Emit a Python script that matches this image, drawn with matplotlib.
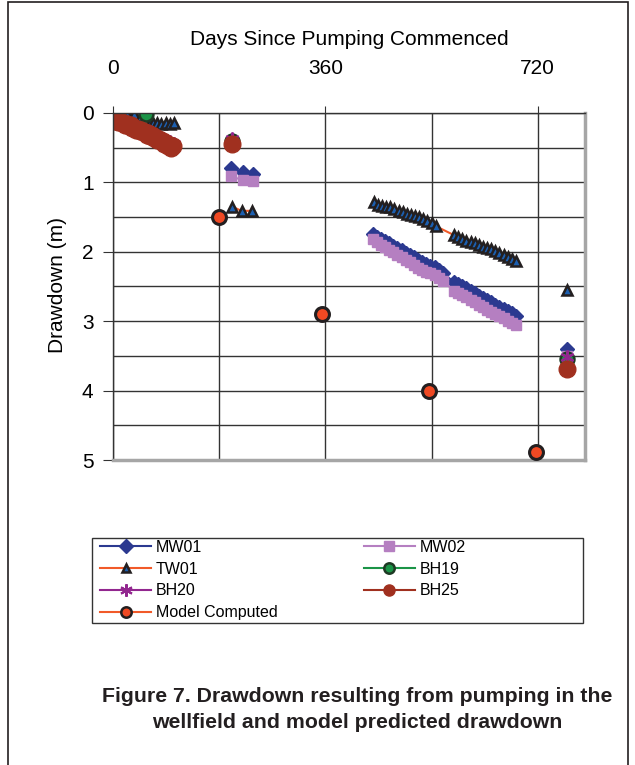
import numpy as np
import matplotlib
matplotlib.use("Agg")
import matplotlib.pyplot as plt
from matplotlib.lines import Line2D
from matplotlib.patches import Rectangle

plt.rcParams["font.family"] = ["Liberation Sans", "DejaVu Sans"]

# ---- data (days since pumping commenced, drawdown in m) ----
mw01_early_days = [0, 10, 20, 30, 40, 50, 60, 70, 80, 90, 100]
mw01_early_dd = [0.05, 0.10, 0.13, 0.17, 0.21, 0.25, 0.29, 0.33, 0.37, 0.41, 0.45]
mw02_early_dd = [0.06, 0.11, 0.15, 0.19, 0.23, 0.27, 0.31, 0.35, 0.39, 0.43, 0.47]

mw_mid_days = [200, 220, 237]
mw01_mid_dd = [0.79, 0.85, 0.88]
mw02_mid_dd = [0.91, 0.97, 0.98]

mw_late_days = [440, 447, 454, 461, 468, 475, 482, 489, 496, 503, 510, 517, 524, 531,
                538, 545, 552, 559, 578, 585, 592, 599, 606, 613, 620, 627, 634, 641,
                648, 655, 662, 669, 676, 683]
mw01_late_dd = [1.74, 1.78, 1.82, 1.84, 1.88, 1.92, 1.95, 1.98, 2.02, 2.05, 2.08, 2.12,
                2.15, 2.18, 2.20, 2.22, 2.26, 2.30, 2.44, 2.47, 2.50, 2.52, 2.56, 2.60,
                2.63, 2.66, 2.70, 2.73, 2.76, 2.79, 2.82, 2.85, 2.88, 2.92]
mw02_late_dd = [1.82, 1.86, 1.90, 1.93, 1.97, 2.01, 2.04, 2.08, 2.12, 2.15, 2.19, 2.23,
                2.26, 2.29, 2.31, 2.34, 2.38, 2.42, 2.56, 2.59, 2.62, 2.65, 2.69, 2.73,
                2.76, 2.80, 2.84, 2.87, 2.90, 2.93, 2.96, 2.99, 3.02, 3.06]

tw01_early_days = [12, 24, 36, 48, 62, 68, 75, 82, 89, 96, 103]
tw01_early_dd = [0.00, 0.01, 0.02, 0.04, 0.14, 0.15, 0.14, 0.16, 0.15, 0.16, 0.15]
tw01_mid_days = [202, 218, 235]
tw01_mid_dd = [1.35, 1.41, 1.41]
tw01_late_days = [442, 449, 456, 463, 470, 477, 484, 491, 498, 505, 512, 519, 526, 533,
                  540, 547, 578, 585, 592, 599, 606, 613, 620, 627, 634, 641, 648, 655,
                  662, 669, 676, 683]
tw01_late_dd = [1.28, 1.32, 1.34, 1.35, 1.35, 1.39, 1.41, 1.43, 1.45, 1.47, 1.49, 1.50,
                1.53, 1.56, 1.59, 1.63, 1.76, 1.78, 1.81, 1.84, 1.86, 1.87, 1.90, 1.93,
                1.94, 1.96, 1.99, 2.02, 2.05, 2.07, 2.10, 2.13]

bh19_days = [56, 202]
bh19_dd = [0.02, 0.40]

bh20_early_days = [0, 6, 12, 18, 24, 30, 36, 42, 48, 54, 60, 66, 72, 78, 84, 90, 96, 104]
bh20_early_dd = [0.03, 0.06, 0.09, 0.11, 0.14, 0.16, 0.19, 0.21, 0.23, 0.25, 0.27, 0.30,
                 0.32, 0.35, 0.37, 0.40, 0.42, 0.44]

bh25_early_days = [0, 3, 6, 9, 12, 15, 18, 21, 24, 27, 30, 33, 36, 39, 42, 45, 48, 51,
                   54, 57, 60, 63, 66, 69, 72, 75, 78, 81, 84, 87, 90, 93, 96, 99, 102]
bh25_early_dd = [0.07, 0.11, 0.10, 0.13, 0.12, 0.15, 0.14, 0.17, 0.16, 0.19, 0.18, 0.22,
                 0.21, 0.24, 0.23, 0.26, 0.25, 0.28, 0.27, 0.31, 0.29, 0.33, 0.32, 0.36,
                 0.34, 0.39, 0.37, 0.41, 0.40, 0.45, 0.43, 0.48, 0.46, 0.50, 0.47]

well_mid_day = [202]
bh20_mid_dd = [0.37]
bh25_mid_dd = [0.45]

final_day = [769]
mw01_final = [3.40]
mw02_final = [3.50]
tw01_final = [2.55]
bh19_final = [3.55]
bh20_final = [3.52]
bh25_final = [3.69]

model_days = [180, 354, 535, 717]
model_dd = [1.50, 2.90, 4.00, 4.88]

x_ticks = [0, 360, 720]
x_grid = [180, 540]
y_ticks = [0, 1, 2, 3, 4, 5]
y_grid = [0.5, 1.5, 2.5, 3.5, 4.5]


def join_segments(*segments):
    out = []
    for i, seg in enumerate(segments):
        if i:
            out.append(np.nan)
        out.extend(seg)
    return np.array(out, dtype=float)


W, H = 635, 765
fig = plt.figure(figsize=(W / 100, H / 100), dpi=100)
fig.patch.set_facecolor("white")

left, right, top, bottom = 113, 585, 113, 460
ax = fig.add_axes([left / W, 1 - bottom / H, (right - left) / W, (bottom - top) / H])

ax.set_xlim(0, 800)
ax.set_ylim(5, 0)
ax.xaxis.tick_top()
ax.set_xticks(x_ticks)
ax.set_xticks(x_grid, minor=True)
ax.set_yticks(y_ticks)
ax.set_yticks(y_grid, minor=True)
ax.grid(which="both", color="#333333", lw=1.0)
ax.set_axisbelow(True)
ax.tick_params(axis="x", which="major", direction="out", length=5, pad=20,
               labelsize=15, color="#333333")
ax.tick_params(axis="y", which="major", direction="out", length=7, pad=7,
               labelsize=15, color="#333333")
ax.tick_params(which="minor", length=0)

for side in ("left", "top"):
    ax.spines[side].set_color("#333333")
    ax.spines[side].set_linewidth(1.0)
for side in ("right", "bottom"):
    ax.spines[side].set_color("#a6a6a6")
    ax.spines[side].set_linewidth(2.5)

ax.set_xlabel("Days Since Pumping Commenced", fontsize=15)
ax.xaxis.set_label_position("top")
ax.xaxis.set_label_coords(0.5, (bottom - 40) / (bottom - top))
ax.xaxis.label.set_va("center")
ax.set_ylabel("Drawdown (m)", fontsize=15)
ax.yaxis.set_label_coords((57 - left) / (right - left), (bottom - 285) / (bottom - top))
ax.yaxis.label.set_va("center")

navy = "#2b3990"
lilac = "#b57fc1"
orange = "#f15a29"
green = "#1b9447"
purple = "#92278f"
brick = "#a0301f"
ink = "#231f20"

ax.plot(join_segments(mw01_early_days, mw_mid_days, mw_late_days, final_day),
        join_segments(mw01_early_dd, mw01_mid_dd, mw01_late_dd, mw01_final),
        color=navy, lw=1.5, marker="D", ms=7.5, mfc=navy, mec=navy)
ax.plot(join_segments(mw01_early_days, mw_mid_days, mw_late_days, final_day),
        join_segments(mw02_early_dd, mw02_mid_dd, mw02_late_dd, mw02_final),
        color=lilac, lw=1.5, marker="s", ms=7, mfc=lilac, mec=lilac)
ax.plot(join_segments(tw01_early_days, tw01_mid_days, tw01_late_days, final_day),
        join_segments(tw01_early_dd, tw01_mid_dd, tw01_late_dd, tw01_final),
        color=orange, lw=1.5, marker="^", ms=6.5, mfc="#1c5fb0", mec=ink, mew=1.8)
ax.plot(join_segments(bh19_days, final_day), join_segments(bh19_dd, bh19_final),
        color=green, lw=1.5, marker="o", ms=10, mfc=green, mec="#1e3a24", mew=1.8,
        ls="none")
ax.plot(join_segments(bh20_early_days, well_mid_day, final_day),
        join_segments(bh20_early_dd, bh20_mid_dd, bh20_final),
        color=purple, lw=1.5, marker=(6, 2, 0), ms=10, mec=purple, mew=1.6)
ax.plot(join_segments(bh25_early_days, well_mid_day, final_day),
        join_segments(bh25_early_dd, bh25_mid_dd, bh25_final),
        color=brick, lw=1.5, marker="o", ms=12, mfc=brick, mec=brick)
ax.plot(model_days, model_dd, ls="none", marker="o", ms=10, mfc="#f04923",
        mec=ink, mew=2.2, zorder=5)

# legend (row-major order like the original, drawn in a fixed box)
handles = {
    "MW01": Line2D([], [], color=navy, lw=1.5, marker="D", ms=7, mfc=navy, mec=navy),
    "MW02": Line2D([], [], color=lilac, lw=1.5, marker="s", ms=7, mfc=lilac, mec=lilac),
    "TW01": Line2D([], [], color=orange, lw=1.5, marker="^", ms=6, mfc="#1c5fb0",
                   mec=ink, mew=1.8),
    "BH19": Line2D([], [], color=green, lw=1.5, marker="o", ms=7.5, mfc=green,
                   mec="#1e3a24", mew=1.8),
    "BH20": Line2D([], [], color=purple, lw=1.5, marker=(6, 2, 0), ms=9, mec=purple,
                   mew=1.5),
    "BH25": Line2D([], [], color=brick, lw=1.5, marker="o", ms=8, mfc=brick, mec=brick),
    "Model Computed": Line2D([], [], color=orange, lw=1.5, marker="o", ms=7.5,
                             mfc="#f04923", mec=ink, mew=1.8),
}
order = ["MW01", "TW01", "BH20", "Model Computed", "MW02", "BH19", "BH25"]
fig.legend([handles[k] for k in order], order, loc="upper left",
           bbox_to_anchor=(100 / W, 1 - 540 / H), ncol=2, frameon=False,
           fontsize=11.5, handlelength=3.2, handletextpad=0.3, labelspacing=0.42,
           columnspacing=5.4, borderpad=0, borderaxespad=0)
fig.add_artist(Rectangle((92 / W, 1 - 623 / H), (583 - 92) / W, (623 - 538) / H,
                         transform=fig.transFigure, fill=False, ec="#333333", lw=1.0))

fig.text(357 / W, 1 - 696 / H, "Figure 7. Drawdown resulting from pumping in the",
         ha="center", va="center", fontsize=15.3, fontweight="bold", color="#231f20")
fig.text(357 / W, 1 - 722 / H, "wellfield and model predicted drawdown",
         ha="center", va="center", fontsize=15.3, fontweight="bold", color="#231f20")

fig.add_artist(Rectangle((8 / W, -0.02), (628 - 8) / W, 1 - 2 / H + 0.02,
                         transform=fig.transFigure, fill=False, ec="#231f20", lw=1.2))

fig.savefig("out.png", dpi=100)
